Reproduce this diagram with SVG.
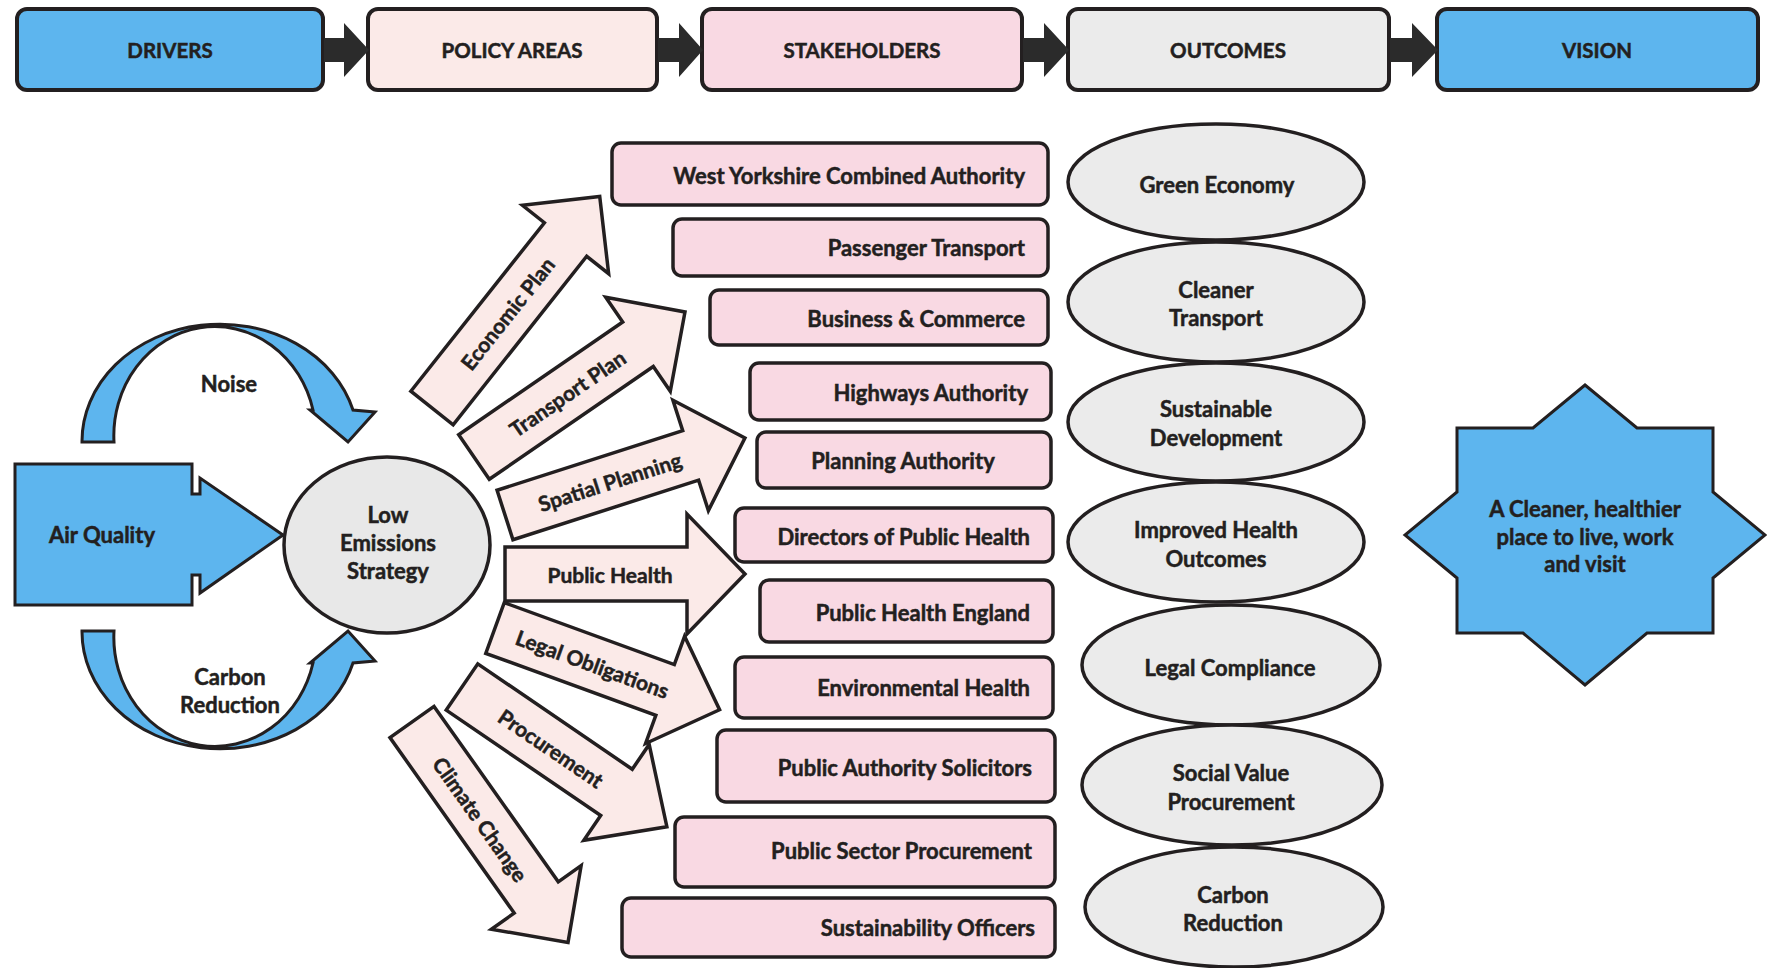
<svg xmlns="http://www.w3.org/2000/svg" width="1767" height="968" viewBox="0 0 1767 968">
<style>
text{font-family:"Lato","Open Sans","Liberation Sans",sans-serif;font-weight:700;fill:#231F20;stroke:#231F20;stroke-width:0.5;}
.hdr{font-size:20.5px;text-anchor:middle;dominant-baseline:central;}
.hbox{stroke:#231F20;stroke-width:4;}
.blue{fill:#5DB5EE;}
.pale{fill:#FBEAE8;}
.pink{fill:#F9D9E3;}
.grey{fill:#EBEBEB;}
.sk{stroke:#231F20;stroke-width:3;stroke-linejoin:miter;}
.sh rect{fill:#F9D9E3;stroke:#231F20;stroke-width:3.5;}
.sh text{font-size:22px;text-anchor:end;dominant-baseline:central;}
.oc ellipse{fill:#EBEBEB;stroke:#231F20;stroke-width:3.5;}
.oc text,.lbl{font-size:22px;text-anchor:middle;dominant-baseline:central;}
.pa path{fill:#FBEAE8;stroke:#231F20;stroke-width:3.5;stroke-linejoin:miter;}
.pa text{font-size:21px;text-anchor:middle;dominant-baseline:central;}
.conn{fill:#2B2B2B;}
</style>

<!-- top row -->
<g id="hdr-drivers"><rect class="hbox blue" x="17" y="9" width="306" height="81" rx="10"/><text class="hdr" x="170" y="50">DRIVERS</text></g>
<g id="hdr-policy"><rect class="hbox pale" x="368" y="9" width="289" height="81" rx="10"/><text class="hdr" x="512" y="50">POLICY AREAS</text></g>
<g id="hdr-stakeholders"><rect class="hbox pink" x="702" y="9" width="320" height="81" rx="10"/><text class="hdr" x="862" y="50">STAKEHOLDERS</text></g>
<g id="hdr-outcomes"><rect class="hbox grey" x="1068" y="9" width="321" height="81" rx="10"/><text class="hdr" x="1228" y="50">OUTCOMES</text></g>
<g id="hdr-vision"><rect class="hbox blue" x="1437" y="9" width="321" height="81" rx="10"/><text class="hdr" x="1597" y="50">VISION</text></g>

<g id="connectors">
  <path class="conn" d="M324,38 H344 V23 L369,50 L344,77 V62 H324 Z"/>
  <path class="conn" d="M658,38 H679 V23 L703,50 L679,77 V62 H658 Z"/>
  <path class="conn" d="M1023,38 H1044 V23 L1069,50 L1044,77 V62 H1023 Z"/>
  <path class="conn" d="M1390,38 H1412 V23 L1438,50 L1412,77 V62 H1390 Z"/>
</g>

<!-- drivers -->
<g id="noise">
  <path class="blue sk" d="M82,442 A138,117 0 0 1 353,410 L375,412 L348,442 L310,410 L313,410 A101,109 0 0 0 114,442 Z"/>
  <text class="lbl" x="229" y="383">Noise</text>
</g>
<g id="carbon-reduction-driver">
  <path class="blue sk" transform="translate(0,1073) scale(1,-1)" d="M82,442 A138,117 0 0 1 353,410 L375,412 L348,442 L310,410 L313,410 A101,109 0 0 0 114,442 Z"/>
  <text class="lbl" x="230" y="676">Carbon</text>
  <text class="lbl" x="230" y="704">Reduction</text>
</g>
<g id="air-quality">
  <path class="blue sk" d="M15,464 H192 V494 H200 V478 L283,535 L200,593 V575 H192 V605 H15 Z"/>
  <text class="lbl" x="102" y="534">Air Quality</text>
</g>
<g id="low-emissions">
  <ellipse cx="387" cy="545" rx="103" ry="88" fill="#E8E8E8" stroke="#231F20" stroke-width="3.5"/>
  <text class="lbl" x="388" y="514">Low</text>
  <text class="lbl" x="388" y="542">Emissions</text>
  <text class="lbl" x="388" y="570">Strategy</text>
</g>

<!-- policy arrows -->
<g id="pa-economic" class="pa" transform="translate(432,408) rotate(-51.6)">
  <path d="M0,-27 H215 V-55 L270,0 L215,55 V27 H0 Z"/><text x="121" y="0">Economic Plan</text>
</g>
<g id="pa-transport" class="pa" transform="translate(474,457) rotate(-34.5)">
  <path d="M0,-27 H199 V-57 L256,0 L199,57 V27 H0 Z"/><text x="113" y="0">Transport Plan</text>
</g>
<g id="pa-spatial" class="pa" transform="translate(505,515) rotate(-17.8)">
  <path d="M0,-26 H195 V-58 L252,0 L195,58 V26 H0 Z"/><text x="110" y="0">Spatial Planning</text>
</g>
<g id="pa-health" class="pa" transform="translate(505,574) rotate(0)">
  <path d="M0,-27 H182 V-60 L240,0 L182,60 V27 H0 Z"/><text x="105" y="0">Public Health</text>
</g>
<g id="pa-legal" class="pa" transform="translate(495,628) rotate(20)">
  <path d="M0,-27 H181 V-57 L239,0 L181,57 V27 H0 Z"/><text x="104" y="0">Legal Obligations</text>
</g>
<g id="pa-procurement" class="pa" transform="translate(462,687) rotate(34.3)">
  <path d="M0,-28 H187 V-58 L248,0 L187,58 V28 H0 Z"/><text x="108" y="0">Procurement</text>
</g>
<g id="pa-climate" class="pa" transform="translate(412,722) rotate(54.7)">
  <path d="M0,-27 H215 V-55 L270,0 L215,55 V27 H0 Z"/><text x="119" y="0">Climate Change</text>
</g>

<!-- stakeholders -->
<g id="sh-wyca" class="sh"><rect x="612" y="143" width="436" height="62" rx="9"/><text x="1025" y="175">West Yorkshire Combined Authority</text></g>
<g id="sh-passenger" class="sh"><rect x="673" y="219" width="375" height="57" rx="9"/><text x="1025" y="247">Passenger Transport</text></g>
<g id="sh-business" class="sh"><rect x="710" y="290" width="338" height="55" rx="9"/><text x="1025" y="318">Business &amp; Commerce</text></g>
<g id="sh-highways" class="sh"><rect x="750" y="363" width="301" height="57" rx="9"/><text x="1028" y="392">Highways Authority</text></g>
<g id="sh-planning" class="sh"><rect x="757" y="432" width="294" height="56" rx="9"/><text x="903" y="460" style="text-anchor:middle">Planning Authority</text></g>
<g id="sh-directors" class="sh"><rect x="735" y="508" width="318" height="54" rx="9"/><text x="1030" y="536">Directors of Public Health</text></g>
<g id="sh-phe" class="sh"><rect x="760" y="580" width="293" height="62" rx="9"/><text x="1030" y="612">Public Health England</text></g>
<g id="sh-env" class="sh"><rect x="735" y="657" width="318" height="61" rx="9"/><text x="1030" y="687">Environmental Health</text></g>
<g id="sh-solicitors" class="sh"><rect x="717" y="730" width="338" height="72" rx="9"/><text x="1032" y="767">Public Authority Solicitors</text></g>
<g id="sh-psp" class="sh"><rect x="675" y="817" width="380" height="70" rx="9"/><text x="1032" y="850">Public Sector Procurement</text></g>
<g id="sh-sustain" class="sh"><rect x="622" y="898" width="433" height="59" rx="9"/><text x="1035" y="927">Sustainability Officers</text></g>

<!-- outcomes -->
<g id="oc-green" class="oc"><ellipse cx="1216" cy="182" rx="148" ry="58"/><text x="1217" y="184">Green Economy</text></g>
<g id="oc-transport" class="oc"><ellipse cx="1216" cy="302" rx="148" ry="60"/><text x="1216" y="289">Cleaner</text><text x="1216" y="317">Transport</text></g>
<g id="oc-sustainable" class="oc"><ellipse cx="1216" cy="422" rx="148" ry="59"/><text x="1216" y="408">Sustainable</text><text x="1216" y="437">Development</text></g>
<g id="oc-health" class="oc"><ellipse cx="1216" cy="542" rx="148" ry="60"/><text x="1216" y="529">Improved Health</text><text x="1216" y="558">Outcomes</text></g>
<g id="oc-legal" class="oc"><ellipse cx="1231" cy="665" rx="149" ry="60"/><text x="1230" y="667">Legal Compliance</text></g>
<g id="oc-social" class="oc"><ellipse cx="1232" cy="785" rx="150" ry="60"/><text x="1231" y="772">Social Value</text><text x="1231" y="801">Procurement</text></g>
<g id="oc-carbon" class="oc"><ellipse cx="1234" cy="907" rx="149" ry="60"/><text x="1233" y="894">Carbon</text><text x="1233" y="922">Reduction</text></g>

<!-- vision -->
<g id="vision-star">
  <path class="blue sk" d="M1585,385 L1637,428 H1713 V492 L1765,535 L1713,578 V633 H1647 L1585,685 L1523,633 H1457 V578 L1405,535 L1457,492 V428 H1533 Z"/>
  <text class="lbl" x="1585" y="508">A Cleaner, healthier</text>
  <text class="lbl" x="1585" y="536">place to live, work</text>
  <text class="lbl" x="1585" y="563">and visit</text>
</g>
</svg>
